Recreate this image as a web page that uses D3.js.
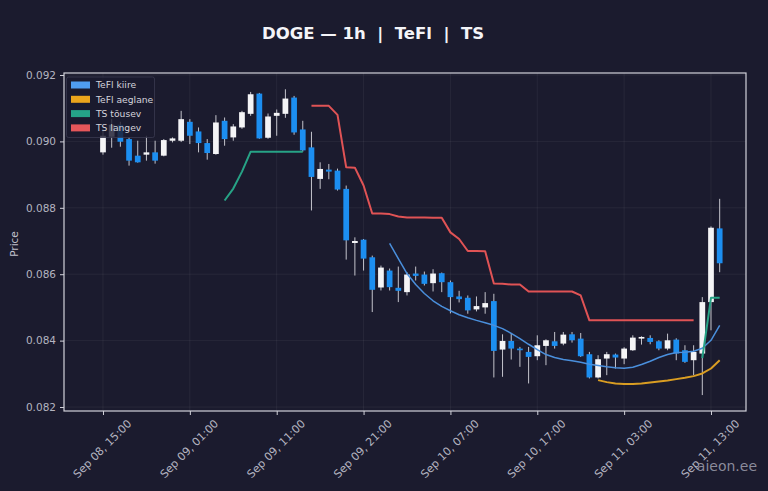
<!DOCTYPE html>
<html>
<head>
<meta charset="utf-8">
<script src="https://cdn.jsdelivr.net/npm/d3@7"></script>
<style>
body { margin: 0; background: #1b1b2e; }
text { font-family: "DejaVu Sans", sans-serif; }
</style>
</head>
<body>
<script>
var width = 768;
var height = 491;

// hourly candles, first one Sep 08 15:00
var startTime = Date.UTC(2025, 8, 8, 15);
var tickHours = [0, 10, 20, 30, 40, 50, 60, 70];
var yTicks = [0.082, 0.084, 0.086, 0.088, 0.090, 0.092];

var openP = [0.08967, 0.09014, 0.09050, 0.09007, 0.08957, 0.08960, 0.08967, 0.08957, 0.09002, 0.09002, 0.09059, 0.09030,
    0.08995, 0.08962, 0.09062, 0.09012, 0.09042, 0.09083, 0.09144, 0.09011, 0.09077, 0.09083, 0.09132, 0.09036,
    0.08982, 0.08887, 0.08915, 0.08912, 0.08857, 0.08694, 0.08704, 0.08651, 0.08560, 0.08611, 0.08559, 0.08546,
    0.08602, 0.08599, 0.08573, 0.08603, 0.08576, 0.08533, 0.08529, 0.08494, 0.08500, 0.08519, 0.08373, 0.08399,
    0.08376, 0.08366, 0.08353, 0.08384, 0.08398, 0.08391, 0.08419, 0.08406, 0.08359, 0.08289, 0.08346, 0.08358,
    0.08346, 0.08371, 0.08406, 0.08408, 0.08398, 0.08376, 0.08403, 0.08371, 0.08341, 0.08361, 0.08516, 0.08738];
var highP = [0.09038, 0.09068, 0.09059, 0.09012, 0.09002, 0.09017, 0.09002, 0.09007, 0.09012, 0.09092, 0.09067, 0.09042,
    0.09007, 0.09079, 0.09072, 0.09052, 0.09092, 0.09149, 0.09146, 0.09084, 0.09096, 0.09157, 0.09137, 0.09062,
    0.09029, 0.08937, 0.08932, 0.08918, 0.08867, 0.08711, 0.08706, 0.08656, 0.08626, 0.08617, 0.08623, 0.08606,
    0.08623, 0.08608, 0.08615, 0.08605, 0.08581, 0.08550, 0.08536, 0.08533, 0.08546, 0.08541, 0.08419, 0.08423,
    0.08381, 0.08381, 0.08416, 0.08404, 0.08426, 0.08426, 0.08426, 0.08423, 0.08366, 0.08356, 0.08366, 0.08361,
    0.08380, 0.08416, 0.08413, 0.08416, 0.08401, 0.08421, 0.08407, 0.08386, 0.08386, 0.08531, 0.08744, 0.08827];
var lowP = [0.08960, 0.08981, 0.08984, 0.08927, 0.08936, 0.08942, 0.08933, 0.08955, 0.08997, 0.08998, 0.08992, 0.08967,
    0.08945, 0.08960, 0.08987, 0.09002, 0.09038, 0.09077, 0.09008, 0.09008, 0.09017, 0.09071, 0.09020, 0.08969,
    0.08792, 0.08857, 0.08886, 0.08852, 0.08644, 0.08596, 0.08611, 0.08486, 0.08551, 0.08551, 0.08516, 0.08536,
    0.08581, 0.08566, 0.08548, 0.08546, 0.08482, 0.08515, 0.08481, 0.08488, 0.08481, 0.08289, 0.08291, 0.08343,
    0.08321, 0.08271, 0.08341, 0.08326, 0.08376, 0.08386, 0.08394, 0.08351, 0.08286, 0.08286, 0.08296, 0.08316,
    0.08329, 0.08369, 0.08388, 0.08389, 0.08371, 0.08371, 0.08341, 0.08333, 0.08296, 0.08236, 0.08431, 0.08606];
var closeP = [0.09017, 0.09050, 0.08999, 0.08942, 0.08937, 0.08967, 0.08942, 0.09004, 0.09009, 0.09067, 0.09017, 0.08995,
    0.08965, 0.09057, 0.09007, 0.09045, 0.09088, 0.09142, 0.09009, 0.09075, 0.09086, 0.09129, 0.09027, 0.08973,
    0.08893, 0.08917, 0.08909, 0.08855, 0.08702, 0.08700, 0.08647, 0.08553, 0.08620, 0.08561, 0.08550, 0.08599,
    0.08595, 0.08571, 0.08602, 0.08576, 0.08531, 0.08525, 0.08491, 0.08504, 0.08513, 0.08369, 0.08399, 0.08376,
    0.08371, 0.08351, 0.08386, 0.08401, 0.08384, 0.08418, 0.08401, 0.08353, 0.08289, 0.08344, 0.08359, 0.08349,
    0.08376, 0.08409, 0.08411, 0.08396, 0.08376, 0.08401, 0.08361, 0.08336, 0.08366, 0.08516, 0.08740, 0.08633];

// indicator lines, null where not drawn
var teflFast = Array(33).fill(null).concat([0.08693, 0.08647, 0.08602, 0.08569, 0.08542, 0.08520, 0.08503, 0.08490,
    0.08478, 0.08469, 0.08461, 0.08454, 0.08446, 0.08436, 0.08422, 0.08406, 0.08389, 0.08373, 0.08358, 0.08349,
    0.08343, 0.08339, 0.08335, 0.08329, 0.08325, 0.08321, 0.08318, 0.08317, 0.08320, 0.08328, 0.08338, 0.08349,
    0.08358, 0.08364, 0.08365, 0.08368, 0.08377, 0.08401, 0.08446]);
var teflSlow = Array(57).fill(null).concat([0.08281, 0.08275, 0.08271, 0.08269, 0.08269, 0.08271, 0.08274, 0.08277,
    0.08280, 0.08284, 0.08288, 0.08293, 0.08301, 0.08316, 0.08341]);
var tsUp = Array(14).fill(null).concat([0.08822, 0.08858, 0.08909, 0.08969, 0.08969, 0.08969, 0.08969, 0.08969,
    0.08969, 0.08969], Array(45).fill(null), [0.08347, 0.08529, 0.08529]);
var tsDown = Array(24).fill(null).concat([0.09107, 0.09107, 0.09107, 0.09080, 0.08922, 0.08921, 0.08867, 0.08783,
    0.08783, 0.08781, 0.08774, 0.08771, 0.08771, 0.08771, 0.08770, 0.08770, 0.08726, 0.08706, 0.08670, 0.08670,
    0.08669, 0.08572, 0.08571, 0.08569, 0.08569, 0.08548, 0.08548, 0.08548, 0.08548, 0.08548, 0.08548, 0.08536],
    Array(13).fill(0.08461), Array(3).fill(null));

var seriesNames = ["TeFl kiire", "TeFl aeglane", "TS tõusev", "TS langev"];
var seriesColors = ["#4f9cf0", "#eba51c", "#25a388", "#e5565a"];
var lineColors = ["#4a8fdc", "#d99d22", "#27a386", "#e05355"];

var hour = 3600 * 1000;
function timeAt(i) { return new Date(startTime + i * hour); }

var plotLeft = 64, plotRight = 746, plotTop = 73, plotBottom = 411;

var svgContainer = d3.select("body").append("svg")
    .attr("width", width)
    .attr("height", height)
    .style("background", "#1b1b2e");

var x = d3.scaleUtc()
    .domain([new Date(startTime - 4.49 * hour), new Date(startTime + 74.03 * hour)])
    .range([plotLeft, plotRight]);
var y = d3.scaleLinear()
    .domain([0.08188, 0.09206])
    .range([plotBottom, plotTop]);

var step = x(timeAt(1)) - x(timeAt(0));
var bodyW = step * 0.66;

// grid
var grid = svgContainer.append("g").attr("stroke", "#ffffff").attr("stroke-opacity", 0.07).attr("stroke-width", 0.8);
grid.selectAll(".hg").data(yTicks).enter().append("line")
    .attr("x1", plotLeft).attr("x2", plotRight)
    .attr("y1", function (d) { return y(d); })
    .attr("y2", function (d) { return y(d); });
grid.selectAll(".vg").data(tickHours).enter().append("line")
    .attr("y1", plotTop).attr("y2", plotBottom)
    .attr("x1", function (d) { return x(timeAt(d)); })
    .attr("x2", function (d) { return x(timeAt(d)); });

// candles
var candles = d3.range(openP.length).map(function (i) {
    return { t: timeAt(i), o: openP[i], h: highP[i], l: lowP[i], c: closeP[i] };
});

var cg = svgContainer.append("g");
cg.selectAll(".wick").data(candles).enter().append("line")
    .attr("x1", function (d) { return x(d.t); })
    .attr("x2", function (d) { return x(d.t); })
    .attr("y1", function (d) { return y(d.h); })
    .attr("y2", function (d) { return y(d.l); })
    .attr("stroke", "#c4c4cc")
    .attr("stroke-width", 1);
cg.selectAll(".body").data(candles).enter().append("rect")
    .attr("x", function (d) { return x(d.t) - bodyW / 2; })
    .attr("width", bodyW)
    .attr("y", function (d) { return y(Math.max(d.o, d.c)); })
    .attr("height", function (d) { return Math.max(1.5, Math.abs(y(d.o) - y(d.c))); })
    .attr("fill", function (d) { return d.c >= d.o ? "#f4f4f6" : "#1c8ef0"; });

// indicator lines
var line = d3.line()
    .defined(function (d) { return d != null; })
    .x(function (d, i) { return x(timeAt(i)); })
    .y(function (d) { return y(d); });

[teflFast, teflSlow, tsUp, tsDown].forEach(function (s, k) {
    svgContainer.append("path")
        .attr("d", line(s))
        .attr("fill", "none")
        .attr("stroke", lineColors[k])
        .attr("stroke-width", k == 0 ? 1.5 : 2)
        .attr("stroke-linejoin", "round");
});

// frame
svgContainer.append("rect")
    .attr("x", plotLeft).attr("y", plotTop)
    .attr("width", plotRight - plotLeft).attr("height", plotBottom - plotTop)
    .attr("fill", "none")
    .attr("stroke", "#d2d2da")
    .attr("stroke-width", 1.2);

// axes
var yAxis = svgContainer.append("g")
    .attr("transform", "translate(" + plotLeft + ",0)")
    .call(d3.axisLeft(y).tickValues(yTicks).tickFormat(d3.format(".3f")).tickSize(4).tickPadding(4));
var xAxis = svgContainer.append("g")
    .attr("transform", "translate(0," + plotBottom + ")")
    .call(d3.axisBottom(x).tickValues(tickHours.map(timeAt)).tickFormat(d3.utcFormat("%b %d, %H:%M")).tickSize(4));

[yAxis, xAxis].forEach(function (a) {
    a.select(".domain").remove();
    a.selectAll(".tick line").attr("stroke", "#d2d2da");
    a.selectAll(".tick text")
        .attr("fill", "#b4b4c0")
        .style("font-size", "10.5px")
        .style("font-family", "DejaVu Sans, sans-serif");
});

xAxis.selectAll(".tick text")
    .attr("y", null)
    .attr("dy", null)
    .attr("text-anchor", "middle")
    .attr("dominant-baseline", "central")
    .style("font-size", "11px")
    .attr("transform", "translate(-1,38) rotate(-45)");

svgContainer.append("text")
    .attr("transform", "translate(17.5,244) rotate(-90)")
    .attr("text-anchor", "middle")
    .attr("fill", "#c0c0cc")
    .style("font-size", "10.5px")
    .text("Price");

// title
svgContainer.append("text")
    .attr("x", 373)
    .attr("y", 39)
    .attr("text-anchor", "middle")
    .attr("fill", "#f4f4f8")
    .style("font-size", "16.5px")
    .style("font-weight", "bold")
    .style("white-space", "pre")
    .text("DOGE \u2014 1h  |  TeFl  |  TS");

// legend
var legend = svgContainer.append("g");
legend.append("rect")
    .attr("x", 66.5).attr("y", 77)
    .attr("width", 88).attr("height", 60.5)
    .attr("rx", 2)
    .attr("fill", "#1b1b2e").attr("fill-opacity", 0.82)
    .attr("stroke", "#3a3a50").attr("stroke-width", 0.8);
var items = legend.selectAll(".item").data(seriesNames).enter().append("g")
    .attr("transform", function (d, i) { return "translate(0," + (85 + i * 14.3) + ")"; });
items.append("rect")
    .attr("x", 71).attr("y", -3.5)
    .attr("width", 19).attr("height", 7)
    .attr("fill", function (d, i) { return seriesColors[i]; });
items.append("text")
    .attr("x", 96).attr("y", 3.3)
    .attr("fill", "#d4d4dc")
    .style("font-size", "9.2px")
    .text(function (d) { return d; });

// watermark
svgContainer.append("text")
    .attr("x", 757).attr("y", 471)
    .attr("text-anchor", "end")
    .attr("fill", "#a0a0ae")
    .attr("fill-opacity", 0.85)
    .style("font-size", "14px")
    .text("aieon.ee");
</script>
</body>
</html>
